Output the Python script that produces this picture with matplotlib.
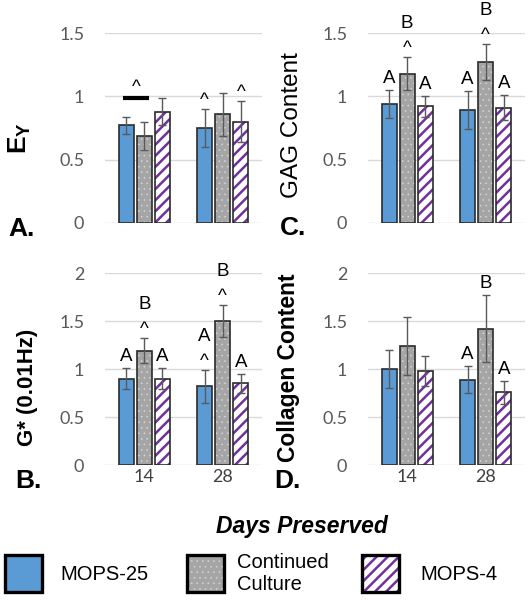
import numpy as np
import matplotlib.pyplot as plt
from matplotlib.patches import Rectangle

plt.rcParams['font.family'] = ['Liberation Sans', 'DejaVu Sans']
plt.rcParams['hatch.linewidth'] = 1.8
plt.rcParams['mathtext.fontset'] = 'custom'
plt.rcParams['mathtext.bf'] = 'Liberation Sans:bold'
plt.rcParams['mathtext.rm'] = 'Liberation Sans'

days = ['14', '28']
groups = ['MOPS-25', 'Continued\nCulture', 'MOPS-4']

# rows = MOPS-25, Continued Culture, MOPS-4 ; columns = day 14, day 28
ey_mean = [[0.77, 0.75], [0.69, 0.86], [0.88, 0.80]]
ey_err = [[0.07, 0.15], [0.11, 0.17], [0.11, 0.16]]
gstar_mean = [[0.90, 0.82], [1.19, 1.50], [0.90, 0.85]]
gstar_err = [[0.11, 0.17], [0.13, 0.17], [0.11, 0.10]]
gag_mean = [[0.94, 0.89], [1.18, 1.27], [0.92, 0.91]]
gag_err = [[0.11, 0.15], [0.13, 0.14], [0.08, 0.10]]
col_mean = [[1.00, 0.89], [1.24, 1.42], [0.98, 0.76]]
col_err = [[0.20, 0.14], [0.30, 0.35], [0.16, 0.12]]

# significance marks stacked upward from the error bar: (series, day, labels)
ey_marks = [(0, 1, ['^']), (2, 1, ['^'])]
ey_bracket = (0, 1, 0, 0.99)  # from series, to series, day, height
gstar_marks = [(0, 0, ['A']), (1, 0, ['^', 'B']), (2, 0, ['A']),
               (0, 1, ['^', 'A']), (1, 1, ['^', 'B']), (2, 1, ['A'])]
gag_marks = [(0, 0, ['A']), (1, 0, ['^', 'B']), (2, 0, ['A']),
             (0, 1, ['A']), (1, 1, ['^', 'B']), (2, 1, ['A'])]
col_marks = [(0, 1, ['A']), (1, 1, ['B']), (2, 1, ['A'])]

blue = '#5B9BD5'
grey = '#A5A5A5'
dots = '#D6D6D6'
purple = '#7030A0'
edge = '#2B2B2B'
w = 0.19
step = 0.23


def draw_panel(ax, mean, err, marks, ymax, yticks, show_x):
    x = np.arange(len(days))
    ekw = dict(ecolor='#595959', elinewidth=1, capsize=3, capthick=1, zorder=5)
    # MOPS-25
    ax.bar(x - step, mean[0], w, color=blue, edgecolor=edge, linewidth=1.2,
           yerr=err[0], error_kw=ekw, zorder=3)
    # continued culture: grey with small white dots
    with plt.rc_context({'hatch.linewidth': 0.4}):
        ax.bar(x, mean[1], w, color=grey, hatch='...', edgecolor=dots,
               linewidth=0, zorder=3)
    ax.bar(x, mean[1], w, fill=False, edgecolor=edge, linewidth=1.2,
           yerr=err[1], error_kw=ekw, zorder=4)
    # MOPS-4: white with purple stripes
    ax.bar(x + step, mean[2], w, color='white', hatch='///', edgecolor=purple,
           linewidth=0, zorder=3)
    ax.bar(x + step, mean[2], w, fill=False, edgecolor=edge, linewidth=1.2,
           yerr=err[2], error_kw=ekw, zorder=4)

    for s, d, labels in marks:
        xs = d + (s - 1) * step
        top = mean[s][d] + err[s][d]
        for k, t in enumerate(labels):
            centre = 13 + 22 * k
            base = centre - (9 if t == '^' else 6)
            ax.annotate(t, xy=(xs, top), xytext=(0, base),
                        textcoords='offset pixels', ha='center',
                        va='baseline', fontsize=13.5, annotation_clip=False)

    ax.set_xlim(-0.5, 1.5)
    ax.set_ylim(0, ymax)
    ax.set_yticks(yticks)
    ax.set_yticklabels([('%g' % v) for v in yticks], fontfamily='Lato',
                       fontsize=13, color='#595959')
    ax.set_xticks(x)
    if show_x:
        ax.set_xticklabels(days, fontfamily='Lato', fontsize=13,
                           color='#404040')
    else:
        ax.set_xticklabels([])
    ax.tick_params(length=0, axis='y', pad=15)
    ax.tick_params(length=0, axis='x', pad=3)
    for sp in ax.spines.values():
        sp.set_visible(False)
    ax.yaxis.grid(True, color='#D9D9D9', linewidth=1)
    ax.set_axisbelow(True)


fig = plt.figure(figsize=(5.3, 6.0), dpi=100)
W, H = 530.0, 600.0

axA = fig.add_axes([105 / W, 1 - 223 / H, 157 / W, 190 / H])
axC = fig.add_axes([368 / W, 1 - 223 / H, 157 / W, 190 / H])
axB = fig.add_axes([105 / W, 1 - 465 / H, 157 / W, 192 / H])
axD = fig.add_axes([368 / W, 1 - 465 / H, 157 / W, 192 / H])

draw_panel(axA, ey_mean, ey_err, ey_marks, 1.5, [0, 0.5, 1, 1.5], False)
draw_panel(axC, gag_mean, gag_err, gag_marks, 1.5, [0, 0.5, 1, 1.5], False)
draw_panel(axB, gstar_mean, gstar_err, gstar_marks, 2, [0, 0.5, 1, 1.5, 2], True)
draw_panel(axD, col_mean, col_err, col_marks, 2, [0, 0.5, 1, 1.5, 2], True)

# bracket in panel A
s0, s1, d, h = ey_bracket
xa = d + (s0 - 1) * step - 0.04
xb = d + (s1 - 1) * step + 0.06
axA.plot([xa, xb], [h, h], color='black', linewidth=3, solid_capstyle='butt',
         zorder=6, clip_on=False)
axA.annotate('^', xy=((xa + xb) / 2, h), xytext=(0, 6),
             textcoords='offset pixels', ha='center', va='baseline',
             fontsize=13.5, annotation_clip=False)

# y labels
fig.text(20 / W, 1 - 138 / H, r'$\mathbf{E}_{\mathbf{Y}}$', rotation=90,
         ha='center', va='center', fontsize=19)
fig.text(292 / W, 1 - 125 / H, 'GAG Content', rotation=90, ha='center',
         va='center', fontsize=17.5)
fig.text(27 / W, 1 - 387 / H, 'G* (0.01Hz)', rotation=90, ha='center',
         va='center', fontsize=16, fontweight='bold')
fig.text(289 / W, 1 - 368 / H, 'Collagen Content', rotation=90, ha='center',
         va='center', fontsize=16.5, fontweight='bold')

# panel letters
for lab, px, py in [('A.', 8, 229), ('B.', 15, 481), ('C.', 280, 228), ('D.', 274, 481)]:
    fig.text(px / W, 1 - py / H, lab, ha='left', va='center', fontsize=19,
             fontweight='bold')

fig.text(302 / W, 1 - 527 / H, 'Days Preserved', ha='center', va='center',
         fontsize=16.5, fontweight='bold', fontstyle='italic')

# legend
leg_x = [5, 187, 362]
leg_txt_x = [60, 237, 420]
for i in range(3):
    box = (leg_x[i] / W, 1 - 592 / H)
    if i == 0:
        fig.add_artist(Rectangle(box, 37 / W, 37 / H, transform=fig.transFigure,
                                 facecolor=blue, edgecolor='black', linewidth=2.4))
    else:
        if i == 1:
            with plt.rc_context({'hatch.linewidth': 0.4}):
                fig.add_artist(Rectangle(box, 37 / W, 37 / H,
                                         transform=fig.transFigure, facecolor=grey,
                                         hatch='...', edgecolor=dots, linewidth=0))
        else:
            fig.add_artist(Rectangle(box, 37 / W, 37 / H, transform=fig.transFigure,
                                     facecolor='white', hatch='///',
                                     edgecolor=purple, linewidth=0))
        fig.add_artist(Rectangle(box, 37 / W, 37 / H, transform=fig.transFigure,
                                 fill=False, edgecolor='black', linewidth=2.4))
    fig.text(leg_txt_x[i] / W, 1 - 574 / H, groups[i], ha='left', va='center',
             fontsize=14.5, linespacing=1.2)

fig.savefig('out.png', dpi=100)
